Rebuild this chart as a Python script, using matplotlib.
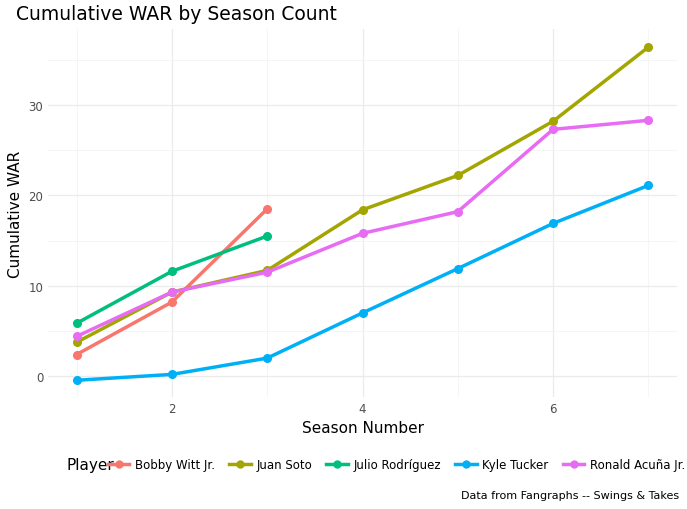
import matplotlib
matplotlib.use("Agg")
import matplotlib.pyplot as plt
from matplotlib.lines import Line2D

players = ["Bobby Witt Jr.", "Juan Soto", "Julio Rodríguez", "Kyle Tucker", "Ronald Acuña Jr."]
colors = ["#F8766D", "#A3A500", "#00BF7D", "#00B0F6", "#E76BF3"]
bobby = [2.4, 8.2, 18.5]
soto = [3.75, 9.3, 11.7, 18.4, 22.2, 28.2, 36.4]
julio = [5.85, 11.6, 15.5]
tucker = [-0.45, 0.2, 2.0, 7.0, 11.9, 16.9, 21.1]
acuna = [4.4, 9.3, 11.5, 15.8, 18.2, 27.3, 28.3]
series = [bobby, soto, julio, tucker, acuna]

fig = plt.figure(figsize=(6.87, 5.10), dpi=100)
ax = fig.add_axes([48/687, 1-398/510, (677-48)/687, (398-30)/510])
for vals, c in zip(series, colors):
    xs = list(range(1, len(vals)+1))
    ax.plot(xs, vals, color=c, lw=2.5, marker='o', ms=5.5, zorder=3)

ax.set_xlim(0.7, 7.3)
ax.set_ylim(-2.3, 38.4)
ax.set_xticks([2, 4, 6])
ax.set_xticks([1, 3, 5, 7], minor=True)
ax.set_yticks([0, 10, 20, 30])
ax.set_yticks([5, 15, 25, 35], minor=True)
ax.grid(True, which='major', color='#ebebeb', lw=0.9)
ax.grid(True, which='minor', color='#f4f4f4', lw=0.6)
ax.tick_params(which='both', length=0, labelsize=8.5, labelcolor='#4d4d4d')
for s in ax.spines.values():
    s.set_visible(False)
ax.set_xlabel("Season Number", fontsize=11)
ax.set_ylabel("Cumulative WAR", fontsize=11)
fig.text(16/687, 1-15/510, "Cumulative WAR by Season Count", fontsize=13.5, va='center')

fig.text(66/687, 1-466/510, "Player", fontsize=11, va='center')
handles = [Line2D([0], [0], color=c, lw=2.5, marker='o', ms=5) for c in colors]
fig.legend(handles, players, loc='center left', bbox_to_anchor=(108/687, 1-466/510), ncol=5,
           frameon=False, fontsize=8.5, handlelength=1.8, columnspacing=1.2,
           handletextpad=0.5, borderaxespad=0, borderpad=0)
fig.text(679/687, 1-496/510, "Data from Fangraphs -- Swings & Takes", fontsize=8, ha='right', va='center')
fig.savefig("out.png", dpi=100)
